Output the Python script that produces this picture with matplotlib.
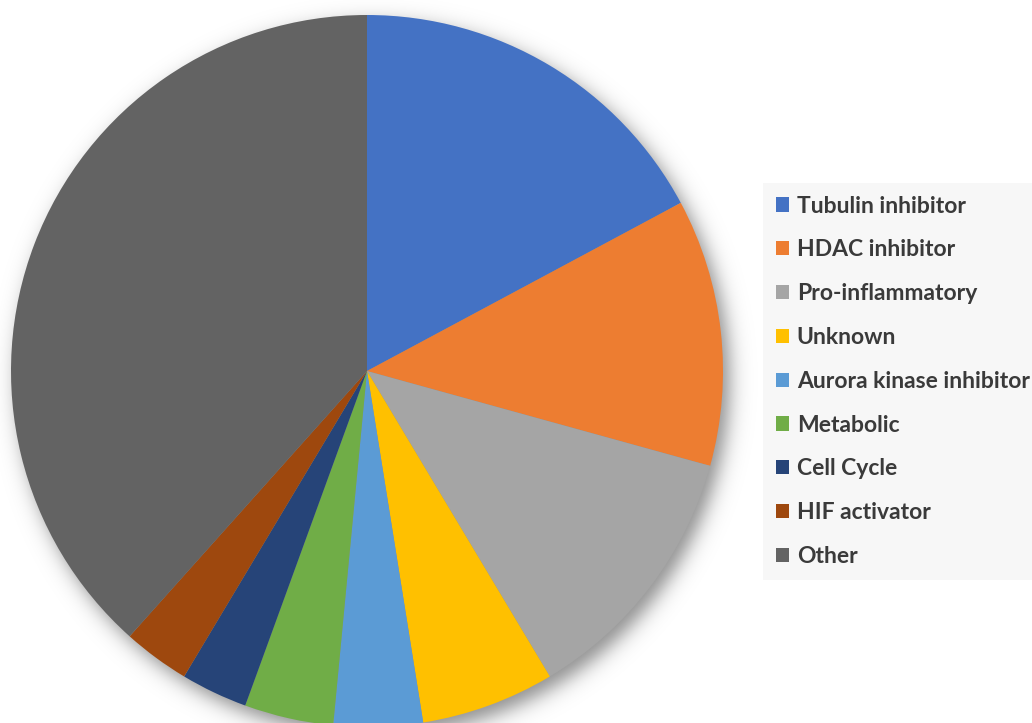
import matplotlib
matplotlib.use('Agg')
import matplotlib.pyplot as plt
import numpy as np

# mechanism of action counts
categories = ['Tubulin inhibitor', 'HDAC inhibitor', 'Pro-inflammatory', 'Unknown',
              'Aurora kinase inhibitor', 'Metabolic', 'Cell Cycle', 'HIF activator', 'Other']
counts = [17, 12, 12, 6, 4, 4, 3, 3, 38]
colors = ['#4472C4', '#ED7D31', '#A5A5A5', '#FFC000', '#5B9BD5',
          '#70AD47', '#264478', '#9E480E', '#636363']

W, H = 1032, 723
cx, cy, r = 367, H - 371, 356

fig = plt.figure(figsize=(W / 100, H / 100), dpi=100)
ax = fig.add_axes([0, 0, 1, 1])

# soft drop shadow behind the pie
yy, xx = np.mgrid[0:H, 0:W]
d = np.hypot(xx - (cx + 6), (H - yy) - (cy - 8))
shadow = 0.45 / (1 + np.exp((d - r) / 6.0))
rgba = np.zeros((H, W, 4))
rgba[..., 3] = shadow
ax.imshow(rgba, extent=(0, W, 0, H), origin='upper', zorder=0, interpolation='bilinear')

wedges, _ = ax.pie(counts, colors=colors, startangle=90, counterclock=False,
                   center=(cx, cy), radius=r, frame=True,
                   wedgeprops=dict(linewidth=0, zorder=1))

ax.set_xlim(0, W)
ax.set_ylim(0, H)
ax.set_aspect('equal')
ax.axis('off')

leg = fig.legend(wedges, categories, loc='upper left',
                 bbox_to_anchor=(763 / W, 1 - 183 / H), borderaxespad=0,
                 prop=dict(family='Lato', weight='bold', size=16.5),
                 labelcolor='#3A3A3A', handlelength=0.57, handleheight=0.57,
                 handletextpad=0.35, labelspacing=0.995, borderpad=0.55,
                 frameon=True, fancybox=False, facecolor='#F7F7F7',
                 edgecolor='none', framealpha=1)

fig.savefig('out.png', dpi=100)
